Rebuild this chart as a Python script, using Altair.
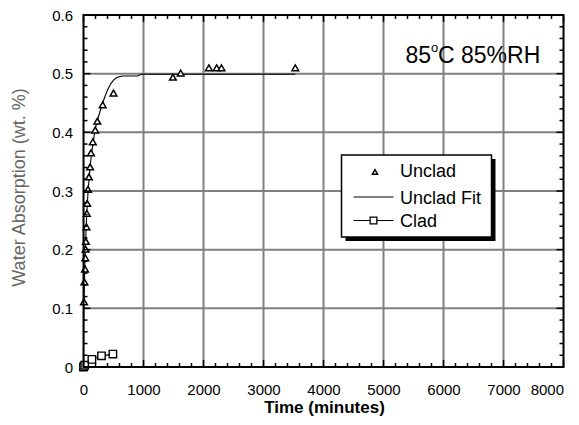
import altair as alt
import pandas as pd

# ---- data ----
unclad_t = [0, 8, 15, 25, 30, 35, 40, 50, 55, 62, 75, 90, 110, 125, 155, 195, 230, 320, 500,
            1490, 1620, 2090, 2220, 2300, 3530]
unclad_w = [0.0, 0.111, 0.145, 0.167, 0.186, 0.201, 0.214, 0.239, 0.262, 0.279, 0.303, 0.324,
            0.341, 0.365, 0.384, 0.404, 0.419, 0.447, 0.467,
            0.494, 0.501, 0.510, 0.510, 0.510, 0.510]

fit_t = [0, 5, 10, 20, 30, 45, 60, 80, 100, 130, 160, 200, 250, 300, 350, 400, 450, 500,
         550, 600, 650, 900, 960, 3530]
fit_w = [0.0, 0.09, 0.12, 0.165, 0.20, 0.24, 0.272, 0.305, 0.33, 0.36, 0.383, 0.408, 0.427,
         0.444, 0.459, 0.472, 0.482, 0.489, 0.493, 0.495, 0.496, 0.496, 0.499, 0.499]

clad_t = [0, 20, 140, 300, 490]
clad_w = [0.0, 0.003, 0.013, 0.019, 0.022]

x_major = [0, 1000, 2000, 3000, 4000, 5000, 6000, 7000, 8000]
y_major = [0, 0.1, 0.2, 0.3, 0.4, 0.5, 0.6]
x_minor = [v for v in range(0, 8001, 200) if v % 1000 != 0]
y_minor = [round(i * 0.02, 2) for i in range(31) if i % 5 != 0]
x_grid = [1000, 2000, 3000, 4000, 5000, 6000, 7000]
y_grid = [0.1, 0.2, 0.3, 0.4, 0.5]

legend_labels = ["Unclad", "Unclad Fit", "Clad"]
annotation = ["85", "o", "C 85%RH"]

W, H = 480, 352
FONT = "Liberation Sans"

unclad = pd.DataFrame({"t": unclad_t, "w": unclad_w})
fit = pd.DataFrame({"t": fit_t, "w": fit_w})
clad = pd.DataFrame({"t": clad_t, "w": clad_w})

xscale = alt.Scale(domain=[0, 8000], nice=False)
yscale = alt.Scale(domain=[0, 0.6], nice=False)

xaxis = alt.Axis(values=x_major, format="d", title="Time (minutes)", grid=False, domain=False,
                 ticks=False, tickSize=0, labelFont=FONT, labelFontSize=15, labelColor="black",
                 labelPadding=15, labelFlush=False, labelOverlap=False,
                 labelAlign=alt.ExprRef("datum.value == 8000 ? 'right' : 'center'"),
                 titleFont=FONT, titleFontSize=17, titleFontWeight="bold", titleColor="black",
                 titleX=240.5, titleY=45.5, titleBaseline="alphabetic", titleAlign="center")
yaxis = alt.Axis(values=y_major, format="~g", title="Water Absorption (wt. %)", grid=False,
                 domain=False, ticks=False, tickSize=0, labelFont=FONT, labelFontSize=15,
                 labelColor="black", labelPadding=11, labelFlush=False, labelOverlap=False,
                 titleFont=FONT, titleFontSize=18, titleFontWeight="normal", titleColor="#666666",
                 titleX=-64, titleY=172, titleAngle=270, titleBaseline="middle",
                 titleAlign="center")

X = alt.X("t:Q", scale=xscale, axis=xaxis)
Y = alt.Y("w:Q", scale=yscale, axis=yaxis)


def df(col, vals):
    return pd.DataFrame({col: vals})


one = pd.DataFrame({"k": [0]})

grid_x = alt.Chart(df("t", x_grid)).mark_rule(color="#808080", strokeWidth=2).encode(x=X)
grid_y = alt.Chart(df("w", y_grid)).mark_rule(color="#808080", strokeWidth=2).encode(y=Y)

fit_line = alt.Chart(fit).mark_line(color="black", strokeWidth=1.1).encode(x=X, y=Y)
unclad_pts = alt.Chart(unclad).mark_point(shape="triangle-up", filled=True, fill="white",
                                          stroke="black", strokeWidth=1.5, size=45,
                                          opacity=1).encode(x=X, y=Y)
clad_line = alt.Chart(clad).mark_line(color="black", strokeWidth=1.1).encode(x=X, y=Y)
clad_pts = alt.Chart(clad).mark_point(shape="square", filled=True, fill="white",
                                      stroke="black", strokeWidth=1.4, size=55,
                                      opacity=1).encode(x=X, y=Y)

tick_style = dict(color="black", strokeWidth=1.5)
ticks = [
    alt.Chart(df("t", x_major)).mark_rule(**tick_style).encode(x=X, y=alt.value(H), y2=alt.value(H - 7)),
    alt.Chart(df("t", x_minor)).mark_rule(**tick_style).encode(x=X, y=alt.value(H), y2=alt.value(H - 4)),
    alt.Chart(df("t", x_major)).mark_rule(**tick_style).encode(x=X, y=alt.value(0), y2=alt.value(7)),
    alt.Chart(df("t", x_minor)).mark_rule(**tick_style).encode(x=X, y=alt.value(0), y2=alt.value(4)),
    alt.Chart(df("w", y_major)).mark_rule(**tick_style).encode(y=Y, x=alt.value(0), x2=alt.value(7)),
    alt.Chart(df("w", y_minor)).mark_rule(**tick_style).encode(y=Y, x=alt.value(0), x2=alt.value(4)),
    alt.Chart(df("w", y_major)).mark_rule(**tick_style).encode(y=Y, x=alt.value(W), x2=alt.value(W - 7)),
    alt.Chart(df("w", y_minor)).mark_rule(**tick_style).encode(y=Y, x=alt.value(W), x2=alt.value(W - 4)),
]

frame = alt.Chart(one).mark_rect(fill="transparent", stroke="black", strokeWidth=2).encode(
    x=alt.value(0), x2=alt.value(W), y=alt.value(0), y2=alt.value(H))

# legend (drawn by hand, like the reference's boxed legend with a drop shadow)
leg_shadow = alt.Chart(one).mark_rect(color="black").encode(
    x=alt.value(262), x2=alt.value(412), y=alt.value(144), y2=alt.value(226))
leg_box = alt.Chart(one).mark_rect(fill="white", stroke="black", strokeWidth=1.5).encode(
    x=alt.value(258), x2=alt.value(408), y=alt.value(140), y2=alt.value(222))
leg_tri = alt.Chart(one).mark_point(shape="triangle-up", filled=True, fill="white", stroke="black",
                                    strokeWidth=1.4, size=28, opacity=1).encode(
    x=alt.value(291.5), y=alt.value(157))
leg_fit = alt.Chart(one).mark_rule(color="black", strokeWidth=1.1).encode(
    x=alt.value(270), x2=alt.value(310), y=alt.value(182))
leg_clad = alt.Chart(one).mark_rule(color="black", strokeWidth=1.1).encode(
    x=alt.value(270), x2=alt.value(310), y=alt.value(205.5))
leg_sq = alt.Chart(one).mark_point(shape="square", filled=True, fill="white", stroke="black",
                                   strokeWidth=1.3, size=45, opacity=1).encode(
    x=alt.value(290), y=alt.value(205.5))
leg_y = [156.5, 183.5, 207]
leg_texts = [
    alt.Chart(pd.DataFrame({"label": [lab]})).mark_text(
        font=FONT, fontSize=18, color="black", align="left", baseline="middle").encode(
        x=alt.value(316.5), y=alt.value(yy), text="label:N")
    for lab, yy in zip(legend_labels, leg_y)
]

ann_x = [322, 347.5, 354.5]
ann_y = [48.3, 36.7, 48.3]
ann_size = [23, 13, 23]
ann = [
    alt.Chart(pd.DataFrame({"label": [s]})).mark_text(
        font=FONT, fontSize=fs, color="black", align="left", baseline="alphabetic").encode(
        x=alt.value(xx), y=alt.value(yy), text="label:N")
    for s, xx, yy, fs in zip(annotation, ann_x, ann_y, ann_size)
]

chart = alt.layer(
    grid_x, grid_y, fit_line, unclad_pts, clad_line, clad_pts,
    *ticks, frame, leg_shadow, leg_box, leg_tri, leg_fit, leg_clad, leg_sq, *leg_texts, *ann
).properties(
    width=W, height=H, autosize="none",
    padding={"left": 75.5, "top": 7, "right": 7, "bottom": 50},
).configure_view(strokeWidth=0).configure(background="white")

chart.save("out.html", embed_options={"renderer": "svg", "actions": False})
